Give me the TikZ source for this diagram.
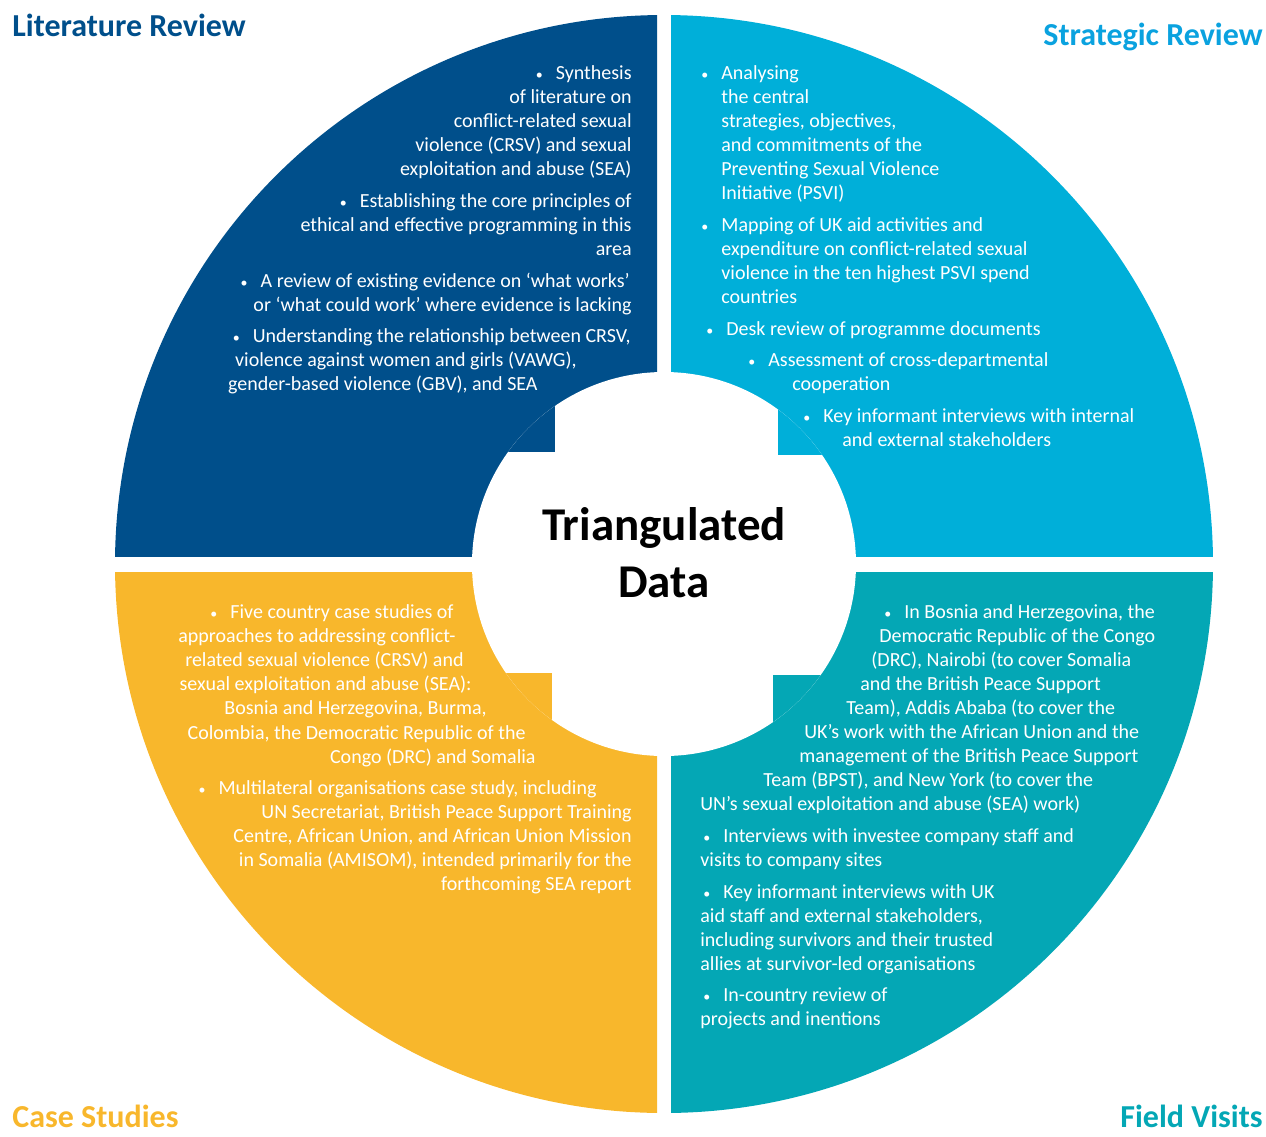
\documentclass[tikz,border=0pt]{standalone}
\usepackage{fontspec}
\setmainfont{Carlito}

\definecolor{litblue}{HTML}{004F8B}
\definecolor{stratblue}{HTML}{00AFD9}
\definecolor{strattitle}{HTML}{0AA2DF}
\definecolor{caseyellow}{HTML}{F8B72C}
\definecolor{fieldteal}{HTML}{04A7B5}

\newcommand{\bul}{\makebox[10pt][l]{\scriptsize •}}

\tikzset{
    item/.style={text=white, inner sep=0pt, font=\fontsize{10}{12}\selectfont},
    heading/.style={inner sep=0pt, font=\bfseries\fontsize{16}{19}\selectfont},
    hubtext/.style={inner sep=0pt, font=\bfseries\fontsize{23.5}{28}\selectfont},
}

\begin{document}
\begin{tikzpicture}[x=0.5pt, y=-0.5pt]
    \useasboundingbox (0,0) rectangle (1266,1137);
    \coordinate (hub) at (664,564);

    % the four quarters
    \begin{scope}
        \clip (0,0) rectangle (657,556);
        \fill[litblue] (hub) circle (549);
    \end{scope}
    \begin{scope}
        \clip (671,0) rectangle (1266,556);
        \fill[stratblue] (hub) circle (549);
    \end{scope}
    \begin{scope}
        \clip (0,572) rectangle (657,1137);
        \fill[caseyellow] (hub) circle (549);
    \end{scope}
    \begin{scope}
        \clip (671,572) rectangle (1266,1137);
        \fill[fieldteal] (hub) circle (549);
    \end{scope}

    % white centre with the four tabs
    \fill[white] (hub) circle (192);
    \begin{scope}
        \clip (hub) circle (192);
        \fill[litblue] (555,452) rectangle (400,300);
        \fill[stratblue] (778,455) rectangle (900,300);
        \fill[caseyellow] (552,673) rectangle (400,800);
        \fill[fieldteal] (773,675) rectangle (900,800);
    \end{scope}

    \node[hubtext, anchor=base] (tri) at (664,540) {Triangulated};
    \node[hubtext, anchor=base] (data) at (664,597) {Data};

    % headings
    \node[heading, text=litblue, anchor=base west] (littitle) at (12,36) {Literature Review};
    \node[heading, text=strattitle, anchor=base east] (strattitle) at (1263,45) {Strategic Review};
    \node[heading, text=caseyellow, anchor=base west] (casetitle) at (12,1127) {Case Studies};
    \node[heading, text=fieldteal, anchor=base east] (fieldtitle) at (1263,1127) {Field Visits};

    % literature review
    \foreach \x/\y/\t [count=\i] in {
        632/79/{\bul Synthesis},
        632/103/{of literature on},
        632/127/{conflict-related sexual},
        632/151/{violence (CRSV) and sexual},
        632/175/{exploitation and abuse (SEA)},
        632/207/{\bul Establishing the core principles of},
        632/231/{ethical and effective programming in this},
        632/255/{area},
        630/287/{\bul A review of existing evidence on ‘what works’},
        632/311/{or ‘what could work’ where evidence is lacking},
        631/342/{\bul Understanding the relationship between CRSV,},
        577/366/{violence against women and girls (VAWG),},
        538/390/{gender-based violence (GBV), and SEA}}
        \node[item, anchor=base east] (lit\i) at (\x,\y) {\t};

    % strategic review
    \foreach \x/\y/\t [count=\i] in {
        701/79/{\bul Analysing},
        721/103/{the central},
        721/127/{strategies, objectives,},
        721/151/{and commitments of the},
        721/175/{Preventing Sexual Violence},
        721/199/{Initiative (PSVI)},
        701/231/{\bul Mapping of UK aid activities and},
        721/255/{expenditure on conflict-related sexual},
        721/279/{violence in the ten highest PSVI spend},
        721/303/{countries},
        706/335/{\bul Desk review of programme documents},
        748/366/{\bul Assessment of cross-departmental},
        792/390/{cooperation},
        803/422/{\bul Key informant interviews with internal},
        842/446/{and external stakeholders}}
        \node[item, anchor=base west] (strat\i) at (\x,\y) {\t};

    % case studies
    \foreach \x/\y/\t [count=\i] in {
        454/618/{\bul Five country case studies of},
        456/642/{approaches to addressing conflict-},
        464/666/{related sexual violence (CRSV) and},
        472/690/{sexual exploitation and abuse (SEA):},
        487/714/{Bosnia and Herzegovina, Burma,},
        526/739/{Colombia, the Democratic Republic of the},
        536/763/{Congo (DRC) and Somalia},
        597/794/{\bul Multilateral organisations case study, including},
        632/818/{UN Secretariat, British Peace Support Training},
        632/842/{Centre, African Union, and African Union Mission},
        632/866/{in Somalia (AMISOM), intended primarily for the},
        632/890/{forthcoming SEA report}}
        \node[item, anchor=base east] (case\i) at (\x,\y) {\t};

    % field visits
    \foreach \x/\y/\t [count=\i] in {
        884/618/{\bul In Bosnia and Herzegovina, the},
        879/642/{Democratic Republic of the Congo},
        871/666/{(DRC), Nairobi (to cover Somalia},
        860/690/{and the British Peace Support},
        846/714/{Team), Addis Ababa (to cover the},
        804/738/{UK’s work with the African Union and the},
        799/762/{management of the British Peace Support},
        763/786/{Team (BPST), and New York (to cover the},
        700/810/{UN’s sexual exploitation and abuse (SEA) work)},
        703/842/{\bul Interviews with investee company staff and},
        700/866/{visits to company sites},
        703/898/{\bul Key informant interviews with UK},
        700/922/{aid staff and external stakeholders,},
        700/946/{including survivors and their trusted},
        700/970/{allies at survivor-led organisations},
        703/1001/{\bul In-country review of},
        700/1025/{projects and inentions}}
        \node[item, anchor=base west] (field\i) at (\x,\y) {\t};
\end{tikzpicture}
\end{document}
